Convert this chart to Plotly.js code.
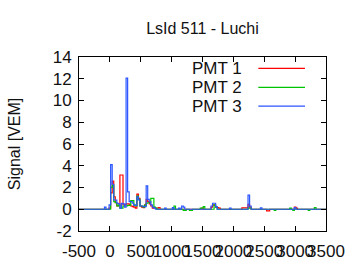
<!DOCTYPE html>
<html>
<head>
<meta charset="utf-8">
<script src="https://cdn.plot.ly/plotly-3.0.1.min.js"></script>
<style>html,body{margin:0;padding:0;background:#fff;}#chart{width:360px;height:270px;}</style>
</head>
<body>
<div id="chart"></div>
<script>
// Bin layout of the FADC traces (ns): bin i is centred at binStart + binWidth*i
var binStart = -100;
var binWidth = 25;
var traceNames = ["PMT 1", "PMT 2", "PMT 3"];

// Signal [VEM] per bin
var pmt1 = [
  0,0,0,0,0.1,1.5,2.6,1.15,0.6,0.3,
  0.3,3.15,3.15,0.4,0.4,0.5,0.5,0.4,0.3,0.25,
  0.2,0.1,1.4,1.0,0.3,0.2,0.15,0.4,0.9,0.7,
  0.5,0.3,0.1,0.15,0.1,0.1,0.15,0,0,0,
  0,0,0,0,0,0,0,0,0,0,
  0,0,0,0,0,0,0,0,0,0,
  0,0,0,0,0.1,0,0,0,0,0,
  0.2,0.4,0.35,0.2,0.15,0.1,0,0,0,0,
  0,0,0,0,0,0,0,0,0,0,
  0.12,0.12,0.12,0.12,0.45,0.2,0,0,0,0,
  0,0,0,0,0,0,-0.15,-0.15,0,0,
  0,0,0,0,0,0,0,0,0,0,
  0,0,0,0,0.2,0.1,0,0,0,0,
  0,0,0,0,0,0,0,0,0
];
var pmt2 = [
  0,0,0,0,0,2.0,2.2,0.7,0.6,0.3,
  0.4,0.1,0.1,0.3,0.3,0.3,0.35,0.35,0.8,0.8,
  0.4,0.3,1.2,0.9,0.3,0.3,0.2,0.35,0.55,0.6,
  0.6,1.0,1.0,0.2,0.1,0,0,0,0,0,
  0,0,0,0,0,0,0.3,0,0,0,
  0,0,-0.1,-0.1,0,0,-0.1,-0.1,0,0,
  0,0,0,0.1,0.1,0.25,0,0,0,0,
  0,0,0.4,0.2,0,0,0,0,0,0,
  0,0,0,0,0,0,0,0,0,0,
  0,0,0,0,0.1,0.1,0,0,0,0,
  0,0,0,0,0,0,0,0,0,0,
  0,-0.1,0,0,0,0,0,0,0,0,
  0,0.1,0,-0.1,0,0,0,0,0,0,
  0,0,0,-0.1,0,0,0,0.15,0
];
var pmt3 = [
  0,0.2,0,0,0.4,4.1,2.3,0.85,0.85,0.55,
  0.5,0.1,0.55,0.5,0.2,12.05,1.6,0.7,0.7,0.55,
  0.35,0.35,1.15,0.85,0.3,0.3,0.25,0.25,2.15,0.9,
  0.7,0.4,0.2,0.1,0,0,0,0,0,0,
  0.1,0,0,0,0,0.15,0,0,0,0.1,
  0,0.3,0.2,0,0,0,0,0,0,0,
  0,0,0,0,0,0,0,0,0,0,
  0.3,0.55,0.55,0.25,0,0,0,0,0,0,
  0,0,0.1,0,0,0,0,0,0,0,
  0,0,0,0,1.3,0.3,0,0,0,0,
  0,0,0.12,0,0,0,0,0,0,0,
  0,0,0,0,0,0,0,0,0,0,
  0,0,0,0,0.15,0,0,0,0,0,
  0,0,0,0,0,0,0,0,0
];

var xTickVals = [-500,0,500,1000,1500,2000,2500,3000,3500];
var xTickText = ["-500","0","500","1000","1500","2000","2500","3000","3500"];
var yTickVals = [-2,0,2,4,6,8,10,12,14];
var yTickText = ["-2","0","2","4","6","8","10","12","14"];

var colors = ["#ff0000", "#00c400", "#2a55ff"];
var series = [pmt1, pmt2, pmt3];
var xMin = -500, xMax = 3500;

function buildTrace(vals, name, color) {
  var xs = [xMin], ys = [0];
  for (var i = 0; i < vals.length; i++) {
    xs.push(binStart + binWidth * i);
    ys.push(vals[i]);
  }
  xs.push(xMax); ys.push(0);
  return {x: xs, y: ys, type: "scatter", mode: "lines", name: name,
          line: {shape: "hvh", color: color, width: 1.2}, showlegend: false};
}

var data = [];
for (var k = 0; k < series.length; k++) data.push(buildTrace(series[k], traceNames[k], colors[k]));

var font = {family: "Liberation Sans, Arial, sans-serif", size: 16, color: "#111"};
var tickFont = {family: "Liberation Sans, Arial, sans-serif", size: 17, color: "#111"};
var legendRowsY = [0.935, 0.826, 0.718];
var annotations = [], shapes = [];
for (var j = 0; j < traceNames.length; j++) {
  annotations.push({xref: "paper", yref: "paper", x: 0.668, y: legendRowsY[j], xanchor: "right", yanchor: "middle",
                    text: traceNames[j], showarrow: false, font: tickFont});
  shapes.push({type: "line", xref: "paper", yref: "paper", x0: 0.726, x1: 0.915, y0: legendRowsY[j], y1: legendRowsY[j],
               line: {color: colors[j], width: 1.2}});
}

var axisCommon = {showline: true, linecolor: "#000", linewidth: 1, mirror: "ticks", ticks: "inside", ticklen: 5,
                  tickcolor: "#000", showgrid: false, zeroline: false, tickfont: tickFont, tickangle: 0};

var layout = {
  width: 360, height: 270,
  margin: {l: 79, r: 34, t: 57, b: 39},
  paper_bgcolor: "#fff", plot_bgcolor: "#fff",
  font: font,
  title: {text: "LsId 511 - Luchi", font: {family: font.family, size: 16, color: "#111"},
          xref: "paper", x: 0.5, xanchor: "center", yref: "container", y: 0.895, yanchor: "middle"},
  xaxis: Object.assign({}, axisCommon, {range: [xMin, xMax], tickmode: "array", tickvals: xTickVals, ticktext: xTickText,
          ticklabelstandoff: 5}),
  yaxis: Object.assign({}, axisCommon, {range: [-2, 14], tickmode: "array", tickvals: yTickVals, ticktext: yTickText,
          ticklabelstandoff: 3, title: {text: "Signal [VEM]", font: font, standoff: 28}}),
  annotations: annotations,
  shapes: shapes
};

Plotly.newPlot("chart", data, layout, {staticPlot: true, displayModeBar: false});
</script>
</body>
</html>
